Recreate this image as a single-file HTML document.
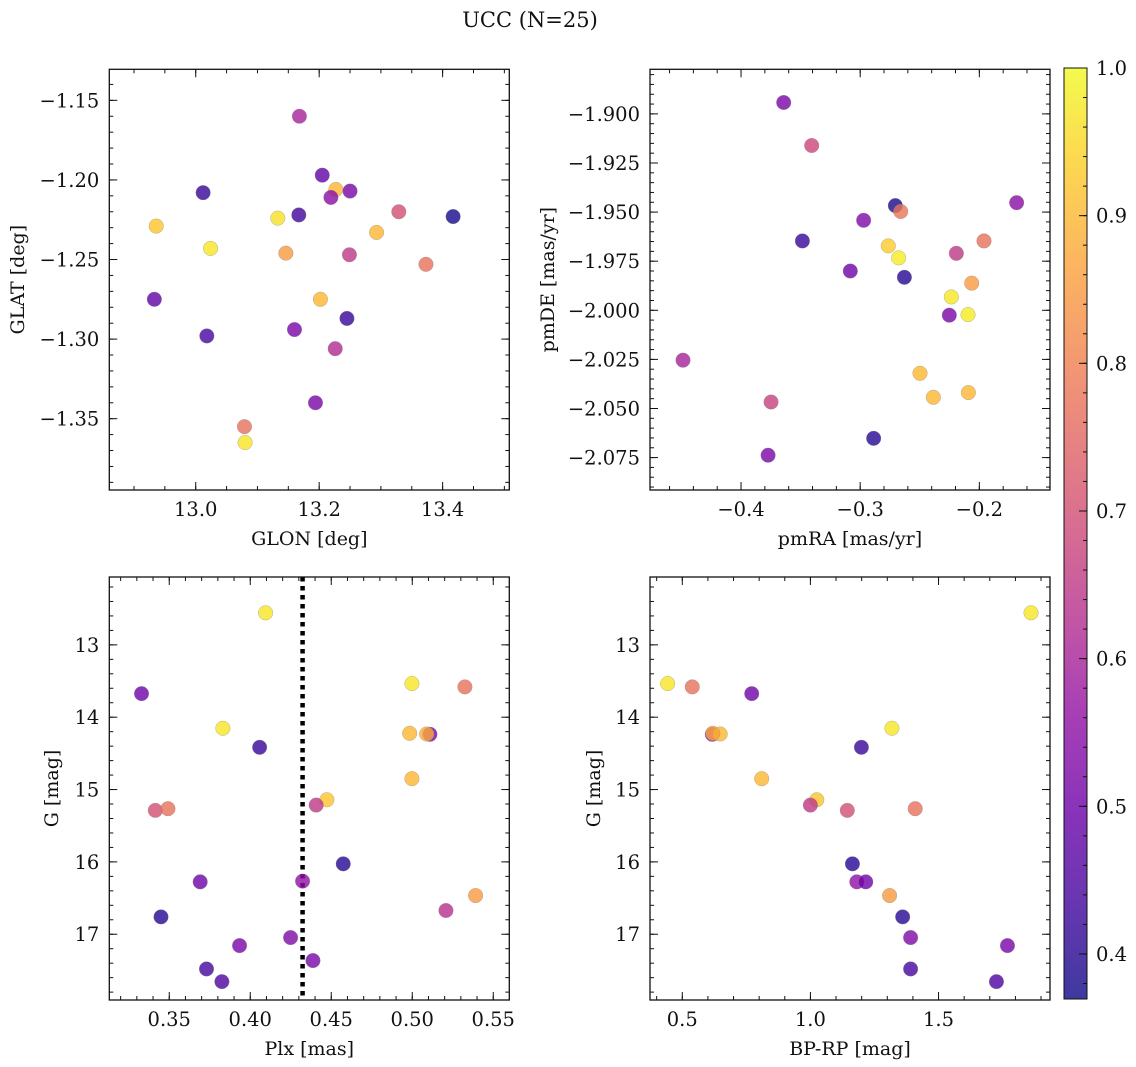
<!DOCTYPE html>
<html><head><meta charset="utf-8">
<style>
html,body{margin:0;padding:0;background:#fff;}
svg{display:block;font-family:"DejaVu Serif","Liberation Serif",serif;}
</style></head>
<body>
<svg id="fig" width="1136" height="1067" viewBox="0 0 1136 1067" xmlns="http://www.w3.org/2000/svg">
<text x="530" y="27" font-size="21" text-anchor="middle" fill="#111">UCC (N=25)</text>
</svg>
<script>
// ---------- data ----------
const glonVals=[13.168,13.205,13.012,13.227,13.250,13.219,13.329,13.417,13.167,13.133,12.936,13.293,13.024,13.146,13.249,13.373,12.933,13.202,13.245,13.018,13.160,13.226,13.194,13.079,13.080];
const glatVals=[-1.160,-1.197,-1.208,-1.206,-1.207,-1.211,-1.220,-1.223,-1.222,-1.224,-1.229,-1.233,-1.243,-1.246,-1.247,-1.253,-1.275,-1.275,-1.287,-1.298,-1.294,-1.306,-1.340,-1.355,-1.365];
const p1Color=[0.60,0.48,0.42,0.90,0.52,0.55,0.70,0.38,0.43,0.96,0.92,0.90,0.97,0.85,0.65,0.77,0.48,0.90,0.42,0.44,0.52,0.62,0.52,0.77,0.97];

const pmraVals=[-0.3642,-0.3407,-0.2705,-0.2660,-0.1687,-0.2971,-0.3485,-0.2764,-0.2677,-0.1961,-0.2193,-0.3083,-0.2629,-0.2064,-0.2235,-0.2252,-0.2095,-0.4487,-0.2498,-0.2386,-0.2092,-0.3748,-0.2887,-0.3773];
const pmdeVals=[-1.8942,-1.9161,-1.9467,-1.9497,-1.9452,-1.9542,-1.9647,-1.9672,-1.9733,-1.9647,-1.9710,-1.9800,-1.9832,-1.9862,-1.9932,-2.0025,-2.0022,-2.0254,-2.0321,-2.0443,-2.0419,-2.0467,-2.0652,-2.0738];
const p2Color=[0.52,0.68,0.38,0.78,0.55,0.53,0.42,0.93,0.98,0.77,0.65,0.50,0.40,0.85,0.97,0.52,0.98,0.60,0.90,0.90,0.90,0.67,0.40,0.52];

const plxVals=[0.4095,0.3329,0.4998,0.5325,0.3831,0.4058,0.4984,0.5109,0.5089,0.4998,0.4473,0.4407,0.3414,0.3492,0.4574,0.3691,0.4323,0.5391,0.5208,0.3449,0.4249,0.3934,0.4387,0.3730,0.3825];
const gPlxVals=[12.557,13.674,13.535,13.581,14.153,14.416,14.223,14.236,14.232,14.850,15.141,15.215,15.288,15.265,16.027,16.276,16.266,16.465,16.672,16.760,17.046,17.157,17.364,17.480,17.655];
const p3Color=[0.97,0.50,0.97,0.77,0.97,0.42,0.90,0.52,0.88,0.90,0.92,0.65,0.70,0.77,0.40,0.50,0.56,0.85,0.63,0.40,0.53,0.52,0.52,0.44,0.45];
const plxRef=[0.4323];

const bprpVals=[1.861,0.443,0.539,0.771,1.318,1.199,0.617,0.648,0.619,0.810,1.025,1.000,1.144,1.409,1.164,1.181,1.216,1.309,1.360,1.391,1.769,1.391,1.726];
const gCmdVals=[12.557,13.535,13.581,13.674,14.153,14.416,14.236,14.232,14.223,14.850,15.141,15.215,15.288,15.265,16.027,16.276,16.276,16.465,16.760,17.046,17.157,17.480,17.655];
const p4Color=[0.97,0.97,0.77,0.50,0.97,0.42,0.52,0.90,0.88,0.90,0.92,0.65,0.70,0.77,0.40,0.56,0.50,0.85,0.40,0.53,0.52,0.44,0.45];

const glonTicks=[13.0,13.2,13.4];
const glatTicks=[-1.15,-1.20,-1.25,-1.30,-1.35];
const pmraTicks=[-0.4,-0.3,-0.2];
const pmdeTicks=[-1.900,-1.925,-1.950,-1.975,-2.000,-2.025,-2.050,-2.075];
const plxTicks=[0.35,0.40,0.45,0.50,0.55];
const gTicks=[13,14,15,16,17];
const bprpTicks=[0.5,1.0,1.5];
const cbarTicks=[0.4,0.5,0.6,0.7,0.8,0.9,1.0];

// ---------- helpers ----------
const NS="http://www.w3.org/2000/svg";
const svg=document.getElementById('fig');
const TICKFS=19.5, LABFS=19;
function mk(tag,attrs,parent){const e=document.createElementNS(NS,tag);for(const k in attrs)e.setAttribute(k,attrs[k]);(parent||svg).appendChild(e);return e;}
const stops=[[13,8,135],[65,4,157],[106,0,168],[143,13,164],[177,42,144],[204,71,120],[225,100,98],[242,132,75],[252,166,54],[252,206,37],[240,249,33]];
const VMIN=0.3695,VMAX=1.0;
function plasma(t){t=Math.max(0,Math.min(1,t));const f=t*10;const i=Math.min(9,Math.floor(f));const r=f-i;const a=stops[i],b=stops[i+1];
 return 'rgb('+[0,1,2].map(k=>Math.round(a[k]+(b[k]-a[k])*r)).join(',')+')';}
function cmap(v){return plasma((v-VMIN)/(VMAX-VMIN));}
function fmt(v,d){return (v<0?'\u2212':'')+Math.abs(v).toFixed(d);}

function panel(cfg){
 const g=mk('g',{});
 
 
 const {x0,x1,y0,y1}=cfg;
 const sx=v=>x0+(v-cfg.xd[0])/(cfg.xd[1]-cfg.xd[0])*(x1-x0);
 const sy=v=>cfg.yinv? y0+(v-cfg.yd[0])/(cfg.yd[1]-cfg.yd[0])*(y1-y0) : y1-(v-cfg.yd[0])/(cfg.yd[1]-cfg.yd[0])*(y1-y0);
 const tg=mk('g',{stroke:'#111','stroke-width':1},g);
 
 
 const lo=Math.min(...cfg.xd),hi=Math.max(...cfg.xd);
 for(let v=Math.ceil(lo/cfg.xm-1e-6)*cfg.xm;v<=hi+1e-9;v+=cfg.xm){const X=sx(v);mk('line',{x1:X,x2:X,y1:y1,y2:y1-4},tg);mk('line',{x1:X,x2:X,y1:y0,y2:y0+4},tg);}
 const ylo=Math.min(...cfg.yd),yhi=Math.max(...cfg.yd);
 for(let v=Math.ceil(ylo/cfg.ym-1e-6)*cfg.ym;v<=yhi+1e-9;v+=cfg.ym){const Y=sy(v);mk('line',{x1:x0,x2:x0+4,y1:Y,y2:Y},tg);mk('line',{x1:x1,x2:x1-4,y1:Y,y2:Y},tg);}
 cfg.xt.forEach(v=>{const X=sx(v);mk('line',{x1:X,x2:X,y1:y1,y2:y1-8},tg);mk('line',{x1:X,x2:X,y1:y0,y2:y0+8},tg);
   const t=mk('text',{x:X,y:y1+26,'font-size':TICKFS,'text-anchor':'middle',fill:'#111'},g);t.textContent=fmt(v,cfg.xdp);
   
   });
 cfg.yt.forEach(v=>{const Y=sy(v);mk('line',{x1:x0,x2:x0+8,y1:Y,y2:Y},tg);mk('line',{x1:x1,x2:x1-8,y1:Y,y2:Y},tg);
   const t=mk('text',{x:x0-10,y:Y+7,'font-size':TICKFS,'text-anchor':'end',fill:'#111'},g);t.textContent=fmt(v,cfg.ydp);
   
   });
 if(cfg.vline){const X=sx(cfg.vline[0]);const l=mk('line',{x1:X,x2:X,y1:y0,y2:y1,stroke:'#000','stroke-width':4.5,'stroke-dasharray':'4.5 4.5'},g);
   
   }
 const pg=mk('g',{},g);
 
 
 cfg.xs.forEach((xv,i)=>{const c=mk('circle',{cx:sx(xv),cy:sy(cfg.ys[i]),r:7.3,fill:cmap(cfg.cs[i]),'fill-opacity':0.8,stroke:'#888','stroke-opacity':0.6,'stroke-width':0.5},pg);
   
   });
 const fr=mk('rect',{x:x0,y:y0,width:x1-x0,height:y1-y0,fill:'none',stroke:'#111','stroke-width':1.3},g);
 
 
 const xl=mk('text',{x:(x0+x1)/2,y:y1+55,'font-size':LABFS,'text-anchor':'middle',fill:'#111'},g);xl.textContent=cfg.xlabel;
 
 
 const yl=mk('text',{x:0,y:0,'font-size':LABFS,'text-anchor':'middle',fill:'#111',transform:`translate(${cfg.ylx},${(y0+y1)/2}) rotate(-90)`},g);yl.textContent=cfg.ylabel;
 
 
}

panel({name:'glon-glat-panel',x0:109.3,x1:509.3,y0:69.3,y1:490,xd:[12.860,13.508],yd:[-1.3948,-1.1305],xt:glonTicks,yt:glatTicks,xm:0.05,ym:0.01,xdp:1,ydp:2,
 xs:glonVals,ys:glatVals,cs:p1Color,xlabel:'GLON [deg]',ylabel:'GLAT [deg]',ylx:24});
panel({name:'pm-panel',x0:650,x1:1050,y0:69.3,y1:490,xd:[-0.4764,-0.1407],yd:[-2.0915,-1.8773],xt:pmraTicks,yt:pmdeTicks,xm:0.02,ym:0.005,xdp:1,ydp:3,
 xs:pmraVals,ys:pmdeVals,cs:p2Color,xlabel:'pmRA [mas/yr]',ylabel:'pmDE [mas/yr]',ylx:554});
panel({name:'plx-g-panel',x0:109.3,x1:509.3,y0:577,y1:1000,xd:[0.3130,0.5599],yd:[12.062,17.909],yinv:true,xt:plxTicks,yt:gTicks,xm:0.01,ym:0.2,xdp:2,ydp:0,
 xs:plxVals,ys:gPlxVals,cs:p3Color,vline:plxRef,xlabel:'Plx [mas]',ylabel:'G [mag]',ylx:58});
panel({name:'cmd-panel',x0:650,x1:1050,y0:577,y1:1000,xd:[0.374,1.935],yd:[12.062,17.909],yinv:true,xt:bprpTicks,yt:gTicks,xm:0.1,ym:0.2,xdp:1,ydp:0,
 xs:bprpVals,ys:gCmdVals,cs:p4Color,xlabel:'BP-RP [mag]',ylabel:'G [mag]',ylx:600});

// colorbar
(function(){
 const cx0=1064,cx1=1087,cy0=68,cy1=999;
 const g=mk('g',{});
 
 
 const defs=mk('defs',{},g);
 const lg=mk('linearGradient',{id:'cbg',x1:0,y1:1,x2:0,y2:0},defs);
 for(let i=0;i<=20;i++){const v=VMIN+(VMAX-VMIN)*i/20;mk('stop',{offset:(i/20),'stop-color':cmap(v),'stop-opacity':0.8},lg);}
 const r=mk('rect',{x:cx0,y:cy0,width:cx1-cx0,height:cy1-cy0,fill:'url(#cbg)',stroke:'#111','stroke-width':1},g);
 
 
 const sy=v=>cy1-(v-VMIN)/(VMAX-VMIN)*(cy1-cy0);
 for(let v=0.38;v<=1.0001;v+=0.02){const Y=sy(v);mk('line',{x1:cx1,x2:cx1-4,y1:Y,y2:Y,stroke:'#111'},g);}
 cbarTicks.forEach(v=>{const Y=sy(v);mk('line',{x1:cx1,x2:cx1-8,y1:Y,y2:Y,stroke:'#111'},g);
  const t=mk('text',{x:cx1+9,y:Y+7,'font-size':TICKFS,fill:'#111'},g);t.textContent=v.toFixed(1);
  
  });
})();
</script>
</body></html>
